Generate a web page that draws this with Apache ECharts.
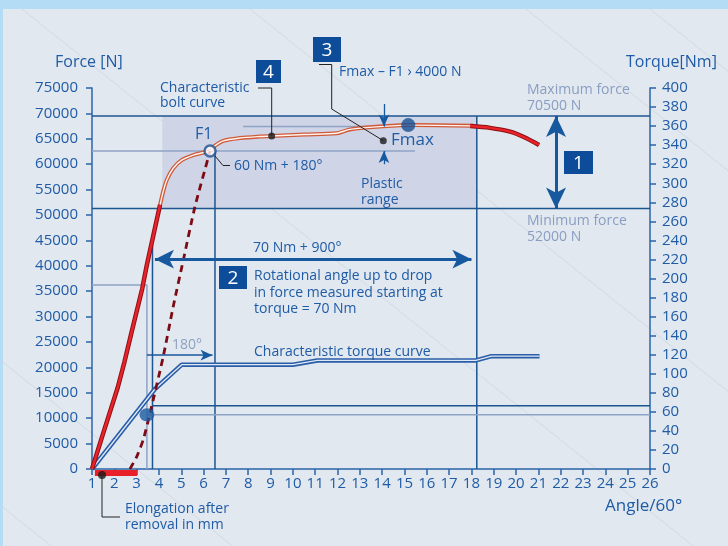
<!DOCTYPE html>
<html>
<head>
<meta charset="utf-8">
<script src="https://cdn.jsdelivr.net/npm/echarts@6/dist/echarts.min.js"></script>
<style>
  html, body { margin: 0; padding: 0; background: #e1e8ef; }
  #viz { width: 728px; height: 546px; }
</style>
</head>
<body>
<div id="viz"></div>
<script>
// Tightening diagram: force / torque against rotation angle

// angle ticks (x), force ticks (left), torque ticks (right)
const angleMin = 1, angleMax = 26;
const forceMax = 75000, forceStep = 5000;
const torqueMax = 400, torqueStep = 20;

// [angle, force] - elastic part of the bolt curve (thick red)
const elasticCurve = [[1, 0], [1.5, 7000], [2.15, 16000], [2.45, 21000], [2.75, 26500], [3.0, 31000],
  [3.25, 35500], [3.45, 40000], [3.75, 46000], [4.05, 52000]];
// [angle, force] - characteristic bolt curve (double line)
const boltCurve = [[4.05, 52000], [4.2, 54800], [4.35, 56900], [4.64, 59200], [5.02, 60800], [5.54, 61800],
  [6.0, 62300], [6.29, 62600], [6.5, 63600], [6.88, 64600], [7.63, 65150], [8.5, 65450], [9.05, 65550],
  [10.5, 65850], [11.96, 66100], [12.56, 66850], [14.05, 67450], [15.4, 67700], [18.1, 67550]];
// [angle, force] - drop in force (thick red)
const dropCurve = [[17.95, 67500], [18.83, 67150], [19.73, 66400], [20.32, 65400], [21.03, 63800]];
// [angle, force] - dashed curve ending at F1
const dashedCurve = [[2.7, 0], [3.0, 2400], [3.3, 5800], [3.6, 11000], [4.19, 22100], [4.64, 32000],
  [5.09, 41100], [5.61, 51600], [6.29, 62600]];
// [angle, torque] - characteristic torque curve
const torqueCurve = [[1, 0], [3.82, 84], [5.02, 109.5], [10.0, 109.5], [11.1, 114], [18.2, 114],
  [18.9, 118.5], [21.05, 118.5]];

// reference values
const maxForceLine = 69500;   // drawn position of "Maximum force"
const minForceLine = 51300;   // drawn position of "Minimum force"
const f1Point = [6.29, 62600];
const fmaxPoint = [15.17, 67700];
const plasticTop = 67400;
const marker4 = [9.05, 65550];
const marker3 = [14.05, 64600];
const startAngle = 3.71;      // 70 Nm
const endAngle = 18.24;       // 70 Nm + 900°
const f1Angle = 6.51;
const preAngle = 3.46;
const preForce = 36200;
const torqueLow = 56.9;
const torqueHigh = 66.3;
const elongation = [[1.13, -790], [3.02, -790]];
const elongDot = [1.45, -1180];

const blue = '#1f5ba6';
const dark = '#1d5590';
const grey = '#8fa3c6';
const font = '"Open Sans", sans-serif';

function hline(y, x1, x2, color, yIdx) {
  return {
    type: 'line', data: [[x1, y], [x2, y]], yAxisIndex: yIdx || 0, symbol: 'none', silent: true,
    lineStyle: { color: color, width: 1.5 }, z: 3
  };
}
function vline(x, y1, y2, color) {
  return {
    type: 'line', data: [[x, y1], [x, y2]], symbol: 'none', silent: true,
    lineStyle: { color: color, width: 1.5 }, z: 3
  };
}
function text(x, y, str, size, color, extra) {
  return {
    type: 'text', x: x, y: y, silent: true, z: 20,
    style: Object.assign({ text: str, font: size + 'px ' + font, fill: color || blue, verticalAlign: 'middle' }, extra || {})
  };
}
function box(x, y, w, h, label) {
  return {
    type: 'group', z: 20, children: [
      { type: 'rect', shape: { x: x, y: y, width: w, height: h }, style: { fill: '#0d4c99' } },
      { type: 'text', x: x + w / 2, y: y + h / 2 + 1, style: { text: label, font: '19px ' + font, fill: '#fff', align: 'center', verticalAlign: 'middle' } }
    ]
  };
}
function leader(points) {
  return { type: 'polyline', silent: true, z: 19, shape: { points: points }, style: { stroke: '#222', lineWidth: 1, fill: null } };
}

const diagonals = [[22, 9], [526, 9], [650, 9], [-200, 200], [-620, 9], [250, 9]].map(p => ({
  type: 'line', silent: true, z: -1,
  shape: { x1: p[0], y1: p[1], x2: p[0] + 900, y2: p[1] + 720 },
  style: { stroke: '#cdd5de', lineWidth: 0.8 }
}));

const myChart = echarts.init(document.getElementById('viz'));

const option = {
  backgroundColor: '#e1e8ef',
  animation: false,
  textStyle: { fontFamily: font },
  grid: { left: 92, right: 78, top: 88, bottom: 77 },
  xAxis: {
    type: 'value', min: angleMin, max: angleMax, interval: 1,
    axisLine: { show: true, lineStyle: { color: '#2a64a8', width: 1.5 } },
    axisTick: { show: true, length: 6, lineStyle: { color: '#2a64a8', width: 1.5 } },
    axisLabel: { color: blue, fontSize: 15, margin: 7 },
    splitLine: { show: false }
  },
  yAxis: [{
    type: 'value', position: 'left', min: 0, max: forceMax, interval: forceStep,
    axisLine: { show: true, lineStyle: { color: '#2a64a8', width: 1.5 } },
    axisTick: { show: true, length: 6, lineStyle: { color: '#2a64a8', width: 1.5 } },
    axisLabel: { color: blue, fontSize: 15, margin: 14, formatter: v => String(v) },
    splitLine: { show: false }
  }, {
    type: 'value', position: 'right', min: 0, max: torqueMax, interval: torqueStep,
    axisLine: { show: true, lineStyle: { color: '#2a64a8', width: 1.5 } },
    axisTick: { show: true, length: 6, lineStyle: { color: '#2a64a8', width: 1.5 } },
    axisLabel: { color: blue, fontSize: 15, margin: 12 },
    splitLine: { show: false }
  }],
  graphic: [
    { type: 'rect', z: -1, silent: true, shape: { x: 0, y: 0, width: 728, height: 9 }, style: { fill: '#b4dcf4' } },
    { type: 'rect', z: -1, silent: true, shape: { x: 0, y: 0, width: 3, height: 546 }, style: { fill: '#b4dcf4' } },
    ...diagonals,
    text(55, 62, 'Force [N]', 16),
    text(626, 62, 'Torque[Nm]', 16),
    text(605, 506, 'Angle/60°', 17),
    text(160, 81, 'Characteristic\nbolt curve', 14, blue, { verticalAlign: 'top', lineHeight: 15 }),
    text(195, 134, 'F1', 16),
    text(234, 166, '60 Nm + 180°', 14),
    text(339, 72, 'Fmax – F1 › 4000 N', 14),
    text(391, 140, 'Fmax', 17),
    text(361, 176, 'Plastic\nrange', 14, blue, { verticalAlign: 'top', lineHeight: 16 }),
    text(527, 82, 'Maximum force\n70500 N', 14, '#8a9dc2', { verticalAlign: 'top', lineHeight: 16 }),
    text(527, 213, 'Minimum force\n52000 N', 14, '#8a9dc2', { verticalAlign: 'top', lineHeight: 16 }),
    text(253, 248, '70 Nm + 900°', 14),
    text(254, 268, 'Rotational angle up to drop\nin force measured starting at\ntorque = 70 Nm', 14, blue, { verticalAlign: 'top', lineHeight: 16.5 }),
    text(172, 345, '180°', 14, '#8ea0c4'),
    text(254, 352, 'Characteristic torque curve', 14),
    text(125, 501, 'Elongation after\nremoval in mm', 14, blue, { verticalAlign: 'top', lineHeight: 16 }),
    box(256, 60, 25, 23, '4'),
    box(313, 37, 28, 25, '3'),
    box(564, 151, 29, 23, '1'),
    box(219, 266, 28, 23, '2'),
    leader([[258, 88], [271.7, 88], [271.7, 136]]),
    leader([[319, 64.5], [331.7, 64.5], [331.7, 109], [383.3, 140.7]]),
    leader([[215, 156], [223, 165.5], [230, 165.5]]),
    leader([[102, 475], [102, 517], [120, 517]])
  ],
  series: [
    {
      // shaded band and reference lines
      type: 'line', data: [[1, maxForceLine], [26, maxForceLine]], symbol: 'none', silent: true,
      lineStyle: { color: dark, width: 1.5 }, z: 3,
      markArea: {
        silent: true, z: 1,
        itemStyle: { color: '#cfd5e6' },
        data: [[{ coord: [4.15, maxForceLine] }, { coord: [endAngle, minForceLine] }]]
      }
    },
    hline(minForceLine, 1, 26, dark),
    vline(endAngle, maxForceLine, 0, dark),
    vline(f1Angle, f1Point[1], 0, dark),
    vline(startAngle, 44100, 0, dark),
    hline(f1Point[1], 1, 15.47, grey),
    hline(plasticTop, 7.77, 14.3, grey),
    { type: 'line', data: [[1, preForce], [preAngle, preForce], [preAngle, 0]], symbol: 'none', silent: true, lineStyle: { color: grey, width: 1.5 }, z: 3 },
    hline(torqueLow, preAngle, 26, grey, 1),
    hline(torqueHigh, startAngle, 26, dark, 1),
    // torque curve (double line)
    { type: 'line', yAxisIndex: 1, data: torqueCurve, symbol: 'none', silent: true, lineStyle: { color: '#2b5ea8', width: 4.5 }, z: 5 },
    { type: 'line', yAxisIndex: 1, data: torqueCurve, symbol: 'none', silent: true, lineStyle: { color: '#dfe8f4', width: 1.3 }, z: 6 },
    // bolt curve (double line)
    { type: 'line', data: boltCurve, symbol: 'none', smooth: 0.3, silent: true, lineStyle: { color: '#cf5a3a', width: 4 }, z: 5 },
    { type: 'line', data: boltCurve, symbol: 'none', smooth: 0.3, silent: true, lineStyle: { color: '#fff4ee', width: 1.4 }, z: 6 },
    // thick red parts
    { type: 'line', data: elasticCurve, symbol: 'none', silent: true, lineStyle: { color: '#8e0f14', width: 4.5 }, z: 7 },
    { type: 'line', data: elasticCurve, symbol: 'none', silent: true, lineStyle: { color: '#e8232a', width: 2.5 }, z: 8 },
    { type: 'line', data: dropCurve, symbol: 'none', smooth: 0.3, silent: true, lineStyle: { color: '#8e0f14', width: 4.5 }, z: 7 },
    { type: 'line', data: dropCurve, symbol: 'none', smooth: 0.3, silent: true, lineStyle: { color: '#e8232a', width: 2.5 }, z: 8 },
    // dashed
    { type: 'line', data: dashedCurve, symbol: 'none', smooth: 0.2, silent: true, lineStyle: { color: '#7e0a14', width: 2.8, type: [7, 5] }, z: 8 },
    // elongation bar
    { type: 'line', data: elongation, symbol: 'none', clip: false, silent: true, lineStyle: { color: '#e8202a', width: 6, cap: 'butt' }, z: 8 },
    // arrows
    {
      type: 'line', data: [], silent: true,
      markLine: {
        silent: true, z: 9, label: { show: false },
        lineStyle: { color: '#17599e', type: 'solid', width: 3 },
        symbolSize: [14, 19],
        data: [
          [{ coord: [3.82, 41300], symbol: 'arrow' }, { coord: [18.0, 41300], symbol: 'arrow' }],
          [{ coord: [21.79, maxForceLine], symbol: 'arrow', symbolSize: [15, 21] }, { coord: [21.79, minForceLine], symbol: 'arrow', symbolSize: [15, 21] }],
          [{ coord: [preAngle, 22400], symbol: 'none', lineStyle: { width: 1.5 } }, { coord: [6.4, 22400], symbol: 'arrow', symbolSize: [8, 12] }],
          [{ coord: [14.08, 71850], symbol: 'none', lineStyle: { width: 1.3 } }, { coord: [14.08, plasticTop], symbol: 'arrow', symbolSize: [8, 12] }],
          [{ coord: [14.08, 60000], symbol: 'none', lineStyle: { width: 1.3 } }, { coord: [14.08, f1Point[1]], symbol: 'arrow', symbolSize: [8, 12] }]
        ]
      }
    },
    // points
    { type: 'scatter', data: [f1Point], symbolSize: 11, silent: true, itemStyle: { color: '#ffffff', borderColor: '#1a4f8f', borderWidth: 2.5 }, z: 12 },
    { type: 'scatter', data: [fmaxPoint], symbolSize: 14, silent: true, itemStyle: { color: '#174f93' }, z: 12 },
    { type: 'scatter', data: [marker4, marker3], symbolSize: 7, silent: true, itemStyle: { color: '#1a1a1a' }, z: 12 },
    { type: 'scatter', yAxisIndex: 1, data: [[preAngle, torqueLow]], symbolSize: [15, 13], silent: true, itemStyle: { color: '#1d5aa0' }, z: 12 },
    { type: 'scatter', data: [elongDot], clip: false, symbolSize: 8, silent: true, itemStyle: { color: '#1a1a1a' }, z: 12 }
  ]
};

myChart.setOption(option);
</script>
</body>
</html>
